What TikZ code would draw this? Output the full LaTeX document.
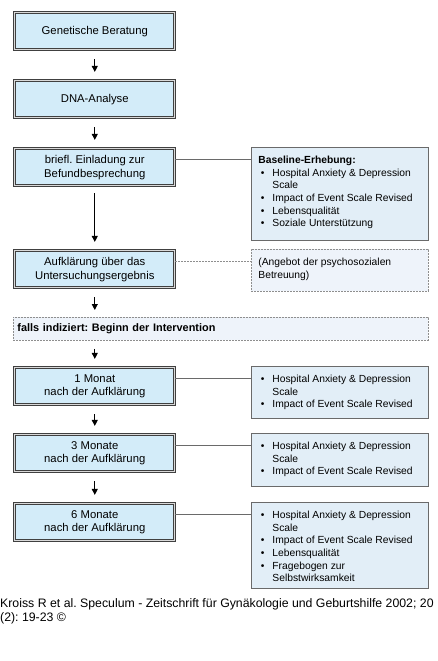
\documentclass[tikz,border=0pt]{standalone}
\usepackage{fontspec}
\setmainfont{Liberation Sans}
\usetikzlibrary{arrows.meta,calc}
\frenchspacing
\definecolor{leftfill}{HTML}{D3ECF9}
\definecolor{rightfill}{HTML}{E2EEF7}
\definecolor{palefill}{HTML}{EEF3FA}
\definecolor{edgegray}{HTML}{6A6A6A}
\definecolor{dashgray}{HTML}{8E8E8E}
\newcommand{\bitem}[1]{\par\hangindent=14pt\hangafter=1\noindent\hbox to 14pt{\hspace{2.5pt}\textbullet\hfill}#1}
\newcommand{\infotext}[2]{\parbox[c][#1][t]{163pt}{\raggedright\frenchspacing #2}}
\begin{document}
\begin{tikzpicture}[x=1pt,y=-1pt,
  mainbox/.style={draw=black!75, double=gray!30, double distance=1.3pt, line width=0.75pt,
    fill=leftfill, anchor=north west, minimum width=160pt, minimum height=37pt,
    inner sep=0pt, align=center, font=\fontsize{11.3}{13.8}\selectfont},
  infobox/.style={draw=edgegray, line width=0.8pt, fill=rightfill, anchor=north west,
    inner xsep=7pt, inner ysep=8.5pt, font=\fontsize{10.3}{12.7}\selectfont},
  dashbox/.style={infobox, draw=dashgray, dashed, dash pattern=on 2pt off 1pt, fill=palefill},
  link/.style={draw=edgegray, line width=0.8pt},
  dashlink/.style={draw=dashgray, line width=0.8pt, dash pattern=on 2pt off 1pt},
  arr/.style={draw=black, line width=0.9pt, -{Triangle[length=6pt,width=6pt]}}
]
\fill[white] (0,0) rectangle (437,661);
\useasboundingbox (0,0) rectangle (437,661);

% left column
\node[mainbox] (g1) at (14.4,12.4) {Genetische Beratung};
\node[mainbox] (g2) at (14.4,80.4) {DNA-Analyse};
\node[mainbox] (g3) at (14.4,148.4) {briefl. Einladung zur\\Befundbesprechung};
\node[mainbox] (g4) at (14.4,250.4) {Aufklärung über das\\Untersuchungsergebnis};
\node[draw=dashgray, dash pattern=on 2pt off 1pt, line width=0.8pt, fill=palefill,
  anchor=north west, minimum width=415pt, minimum height=23pt, text width=407pt,
  inner xsep=4pt, inner ysep=0pt, align=left, font=\fontsize{10.9}{13}\selectfont\bfseries\frenchspacing]
  (fi) at (13,317) {falls indiziert: Beginn der Intervention};
\node[mainbox] (m1) at (14.4,367.4) {1 Monat\\nach der Aufklärung};
\node[mainbox] (m3) at (14.4,434.4) {3 Monate\\nach der Aufklärung};
\node[mainbox] (m6) at (14.4,503.4) {6 Monate\\nach der Aufklärung};

% right column
\node[infobox] (r1) at (251,147) {\infotext{76pt}{\textbf{Baseline-Erhebung:}
  \bitem{Hospital Anxiety \& Depression Scale}
  \bitem{Impact of Event Scale Revised}
  \bitem{Lebensqualität}
  \bitem{Soziale Unterstützung}}};
\node[dashbox] (r2) at (251,249) {\infotext{25pt}{(Angebot der psychosozialen\newline Betreuung)}};
\node[infobox] (r3) at (251,366) {\infotext{35pt}{\noindent
  \bitem{Hospital Anxiety \& Depression Scale}
  \bitem{Impact of Event Scale Revised}}};
\node[infobox] (r4) at (251,433) {\infotext{36pt}{\noindent
  \bitem{Hospital Anxiety \& Depression Scale}
  \bitem{Impact of Event Scale Revised}}};
\node[infobox] (r5) at (251,502) {\infotext{69pt}{\noindent
  \bitem{Hospital Anxiety \& Depression Scale}
  \bitem{Impact of Event Scale Revised}
  \bitem{Lebensqualität}
  \bitem{Fragebogen zur\newline Selbstwirksamkeit}}};

% horizontal connectors
\coordinate (c3) at ($(g3.north east)+(0,11)$);
\coordinate (c4) at ($(g4.north east)+(0,11)$);
\coordinate (c5) at ($(m1.north east)+(0,11)$);
\coordinate (c6) at ($(m3.north east)+(0,11)$);
\coordinate (c7) at ($(m6.north east)+(0,11)$);
\draw[link] (c3) -- (c3 -| r1.west);
\draw[dashlink] (c4) -- (c4 -| r2.west);
\draw[link] (c5) -- (c5 -| r3.west);
\draw[link] (c6) -- (c6 -| r4.west);
\draw[link] (c7) -- (c7 -| r5.west);

% vertical arrows
\draw[arr] ($(g1.south)+(0,9)$) -- ($(g2.north)+(0,-8.5)$);
\draw[arr] ($(g2.south)+(0,9)$) -- ($(g3.north)+(0,-8.5)$);
\draw[arr] ($(g3.south)+(0,7)$) -- ($(g4.north)+(0,-8.5)$);
\coordinate (fa) at (g4.south |- fi.north);
\coordinate (fb) at (g4.south |- fi.south);
\draw[arr] ($(g4.south)+(0,9)$) -- ($(fa)+(0,-7)$);
\draw[arr] ($(fb)+(0,8)$) -- ($(m1.north)+(0,-8.5)$);
\draw[arr] ($(m1.south)+(0,9)$) -- ($(m3.north)+(0,-8.5)$);
\draw[arr] ($(m3.south)+(0,9)$) -- ($(m6.north)+(0,-8.5)$);

% caption
\node[anchor=base west, inner sep=0pt, align=left, font=\fontsize{12.3}{14}\selectfont\frenchspacing]
  (cap) at (0,621) {Kroiss R et al. Speculum - Zeitschrift für Gynäkologie und Geburtshilfe 2002; 20\\(2): 19-23 ©};
\end{tikzpicture}
\end{document}
